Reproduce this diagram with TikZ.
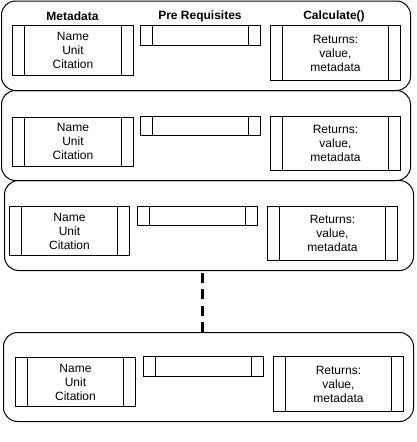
\documentclass[tikz,border=0pt]{standalone}
\usepackage{fontspec}
\setmainfont{Liberation Sans}
\begin{document}
\begin{tikzpicture}[x=1pt,y=-1pt,
  panel/.style={draw, line width=1pt, rounded corners=14pt, anchor=north west, inner sep=0pt},
  proc/.style={draw, line width=1pt, anchor=north west, inner sep=0pt, align=center,
    font=\fontsize{12}{14}\selectfont,
    path picture={
      \draw[line width=1pt] ([xshift=12pt]path picture bounding box.north west) -- ([xshift=12pt]path picture bounding box.south west);
      \draw[line width=1pt] ([xshift=-12pt]path picture bounding box.north east) -- ([xshift=-12pt]path picture bounding box.south east);
    }},
  hdr/.style={font=\bfseries\fontsize{12}{14}\selectfont, inner sep=0pt},
  conn/.style={line width=3pt, dash pattern=on 10pt off 6.5pt}]
\useasboundingbox (0,0) rectangle (417,442);

% panel 1
\node[panel, minimum width=409pt, minimum height=89.5pt] (p1) at (1,0.5) {};
\node[hdr] (h1) at (72.5,16) {Metadata};
\node[hdr] (h2) at (200,16) {Pre Requisites};
\node[hdr] (h3) at (334,16) {Calculate()};
\node[proc, minimum width=121pt, minimum height=50pt] (m1) at (12,25) {Name\\Unit\\Citation};
\node[proc, minimum width=120pt, minimum height=20pt] (r1) at (140,25) {};
\node[proc, minimum width=130pt, minimum height=55pt] (c1) at (270,25) {Returns:\\value,\\metadata};

% panel 2
\node[panel, minimum width=409pt, minimum height=90pt] (p2) at (1,90) {};
\node[proc, minimum width=121pt, minimum height=49pt] (m2) at (12,116.5) {Name\\Unit\\Citation};
\node[proc, minimum width=120pt, minimum height=19pt] (r2) at (140,116) {};
\node[proc, minimum width=130pt, minimum height=54pt] (c2) at (270,116) {Returns:\\value,\\metadata};

% panel 3
\node[panel, minimum width=409pt, minimum height=90pt] (p3) at (4,180) {};
\node[proc, minimum width=120pt, minimum height=49pt] (m3) at (9,206) {Name\\Unit\\Citation};
\node[proc, minimum width=120pt, minimum height=19pt] (r3) at (137,206) {};
\node[proc, minimum width=130pt, minimum height=54pt] (c3) at (267,206) {Returns:\\value,\\metadata};

% panel 4
\node[panel, minimum width=410pt, minimum height=89pt] (p4) at (3,332) {};
\node[proc, minimum width=120pt, minimum height=49pt] (m4) at (15,357) {Name\\Unit\\Citation};
\node[proc, minimum width=120pt, minimum height=20pt] (r4) at (143,356) {};
\node[proc, minimum width=130pt, minimum height=55pt] (c4) at (273,356) {Returns:\\value,\\metadata};

% dashed connector
\draw[conn] ([xshift=-6.5pt]p4.north) -- ([xshift=-7pt]p3.south);
\end{tikzpicture}
\end{document}
